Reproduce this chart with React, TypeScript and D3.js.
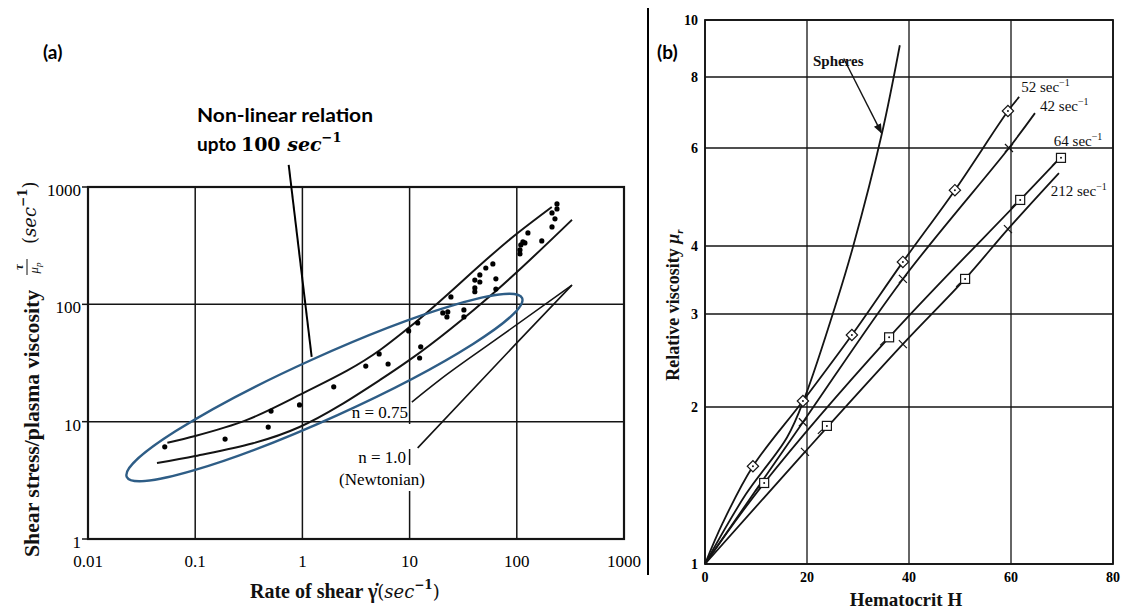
import React from 'react';
import * as d3 from 'd3';

type Pt = [number, number];

// ---------- panel (a): shear stress vs rate of shear ----------
const xTicksA = [0.01, 0.1, 1, 10, 100, 1000];
const yTicksA = [1, 10, 100, 1000];

const upperCurve: Pt[] = [[0.055, 6.6], [0.1, 7.55], [0.3, 10.3], [0.94, 16.9], [5.3, 40.8], [10, 64], [102, 406], [212, 676]];
const lowerCurve: Pt[] = [[0.044, 4.45], [0.1, 5.1], [0.94, 9.0], [5.3, 22.7], [10, 33.6], [65, 132], [327, 525]];
const line075: Pt[] = [[10.5, 14.7], [19.1, 22.7], [65, 50.7], [327, 146]];
const line100: Pt[] = [[11.9, 5.97], [100, 46.9], [327, 146]];

const dotsA: Pt[] = [
  [0.052, 6.1], [0.19, 7.1], [0.51, 12.3], [0.48, 9.0], [0.94, 13.9], [1.96, 19.8], [3.9, 29.8], [5.2, 37.8],
  [6.3, 31.0], [9.8, 59.3], [11.9, 69.4], [12.7, 43.4], [12.4, 34.9], [20.4, 84.5], [22.7, 86.1], [22.3, 78.1],
  [24.3, 115.7], [32.1, 89.6], [32.1, 78.1], [40.6, 161], [45.2, 155], [40.6, 138], [40.6, 128], [45.2, 178],
  [51.4, 204], [59.8, 221], [63.8, 165], [63.8, 135], [107, 291], [107, 269], [114, 340], [119, 334],
  [127, 406], [109, 321], [171, 347], [213, 457], [213, 601], [227, 535], [237, 718], [237, 650],
];

// blue highlight ellipse: two ends (data) and half-width in px
const ellipseEnds: Pt[] = [[0.023, 3.38], [112, 113]];
const ellipseHalfWidth = 30.5;
// pointer from "Non-linear relation" text
const pointerA: Pt[] = [[0.745, 1542], [1.22, 35.6]];

// ---------- panel (b): relative viscosity vs hematocrit ----------
const xTicksB = [0, 20, 40, 60, 80];
const yTicksB = [1, 2, 3, 4, 6, 8, 10];

const spheres: Pt[] = [[0, 1], [8, 1.36], [16.1, 1.75], [19.6, 2.09], [25.9, 3.18], [29, 3.98], [34.7, 6.37], [38.2, 9.06]];
const c52: Pt[] = [[0, 1], [3.5, 1.2], [9.4, 1.54], [19.2, 2.053], [28.8, 2.737], [38.8, 3.74], [49, 5.04], [59.4, 6.97], [61.6, 7.38]];
const c42: Pt[] = [[0, 1], [19.2, 1.87], [38.8, 3.48], [59.6, 6.0], [64.7, 6.91]];
const c64: Pt[] = [[0, 1], [11.6, 1.43], [36.1, 2.71], [61.8, 4.84], [70.2, 5.83]];
const c212: Pt[] = [[0, 1], [19.6, 1.64], [38.8, 2.63], [51, 3.48], [59.4, 4.29], [69.4, 5.41]];

const diamonds52: Pt[] = [[9.4, 1.54], [19.2, 2.053], [28.8, 2.737], [38.8, 3.74], [49, 5.04], [59.4, 6.97]];
const crosses42: Pt[] = [[19.2, 1.87], [38.8, 3.48], [59.6, 6.0]];
const squares64: Pt[] = [[11.6, 1.43], [36.1, 2.71], [61.8, 4.84], [69.8, 5.76]];
const ticks212: Pt[] = [[19.6, 1.64], [38.8, 2.63], [59.4, 4.29]];
const squares212: Pt[] = [[23.9, 1.84], [51, 3.48]];

const curveLabels = [
  { text: '52 sec', at: [62.0, 7.53] as Pt },
  { text: '42 sec', at: [65.7, 6.97] as Pt },
  { text: '64 sec', at: [68.4, 6.05] as Pt },
  { text: '212 sec', at: [67.8, 4.92] as Pt },
];
const spheresArrow: Pt[] = [[27.2, 8.6], [34.6, 6.38]];

const SERIF = '"Liberation Serif", "DejaVu Serif", serif';
const MATH = '"DejaVu Serif", serif';
const SANS = 'Lato, "Open Sans", sans-serif';
const INK = '#141414';

export default function App() {
  const xA = d3.scaleLog().domain([0.01, 1000]).range([88, 624]);
  const yA = d3.scaleLog().domain([1, 1000]).range([539, 187]);
  const xB = d3.scaleLinear().domain([0, 80]).range([705, 1113]);
  const yB = d3.scaleLog().domain(yTicksB).range([564, 407, 314, 246, 148, 77, 20]);

  const lineA = d3.line<Pt>().x(d => xA(d[0])).y(d => yA(d[1])).curve(d3.curveMonotoneX);
  const lineB = d3.line<Pt>().x(d => xB(d[0])).y(d => yB(d[1])).curve(d3.curveCatmullRom.alpha(0.5));

  // ellipse geometry from its ends
  const [e0, e1] = ellipseEnds.map(d => [xA(d[0]), yA(d[1])]);
  const ecx = (e0[0] + e1[0]) / 2;
  const ecy = (e0[1] + e1[1]) / 2;
  const erx = Math.hypot(e1[0] - e0[0], e1[1] - e0[1]) / 2;
  const eang = (Math.atan2(e1[1] - e0[1], e1[0] - e0[0]) * 180) / Math.PI;

  return (
    <svg width={1122} height={611} style={{ position: 'absolute', left: 0, top: 0, background: '#fff' }}>
      <defs>
        <marker id="arrow" viewBox="0 0 10 10" refX="9" refY="5" markerWidth="7" markerHeight="7" orient="auto">
          <path d="M0,1 L10,5 L0,9 z" fill={INK} />
        </marker>
      </defs>

      {/* ================= panel (a) ================= */}
      <text x={43} y={59} fontFamily={SANS} fontWeight={700} fontSize={19} fill="#000">(a)</text>
      <text x={197} y={122} fontFamily={SANS} fontWeight={700} fontSize={19} fill="#000" textLength={176} lengthAdjust="spacingAndGlyphs">Non-linear relation</text>
      <text x={197} y={151} fontWeight={700} fontSize={19} fill="#000">
        <tspan fontFamily={SANS}>upto </tspan>
        <tspan fontFamily={MATH} fontSize={19}>100 </tspan>
        <tspan fontFamily={MATH} fontStyle="italic" fontSize={19}>sec</tspan>
        <tspan fontFamily={MATH} fontSize={13} dy={-9}>−1</tspan>
      </text>

      {/* grid */}
      {xTicksA.map(t => (
        <line key={'gxa' + t} x1={xA(t)} x2={xA(t)} y1={yA(1)} y2={yA(1000)} stroke={INK} strokeWidth={1.5} />
      ))}
      {yTicksA.map(t => (
        <g key={'gya' + t}>
          <line x1={xA(0.01)} x2={xA(1000)} y1={yA(t)} y2={yA(t)} stroke={INK} strokeWidth={1.5} />
          <line x1={xA(0.01) - 6} x2={xA(0.01)} y1={yA(t)} y2={yA(t)} stroke={INK} strokeWidth={1.5} />
          <text x={xA(0.01) - 7} y={yA(t) + 9} textAnchor="end" fontFamily={SERIF} fontSize={17} fill="#000">{t}</text>
        </g>
      ))}
      <rect x={xA(0.01)} y={yA(1000)} width={xA(1000) - xA(0.01)} height={yA(1) - yA(1000)} fill="none" stroke={INK} strokeWidth={2.2} />
      {xTicksA.map(t => (
        <text key={'lxa' + t} x={xA(t)} y={yA(1) + 28} textAnchor="middle" fontFamily={SERIF} fontSize={17} fill="#000">{t}</text>
      ))}

      {/* white boxes behind the n labels */}
      <rect x={406} y={424} width={8} height={25} fill="#fff" />
      <rect x={334} y={465} width={96} height={26} fill="#fff" />

      {/* model curves */}
      <path d={lineA(upperCurve) ?? ''} fill="none" stroke={INK} strokeWidth={2} />
      <path d={lineA(lowerCurve) ?? ''} fill="none" stroke={INK} strokeWidth={2} />
      <path d={lineA(line075) ?? ''} fill="none" stroke={INK} strokeWidth={1.6} />
      <path d={lineA(line100) ?? ''} fill="none" stroke={INK} strokeWidth={1.6} />
      {dotsA.map((d, i) => (
        <circle key={'dot' + i} cx={xA(d[0])} cy={yA(d[1])} r={2.6} fill="#000" />
      ))}

      <text x={408} y={418} textAnchor="end" fontFamily={SERIF} fontSize={17} fill="#000">n = 0.75</text>
      <text x={406} y={463} textAnchor="end" fontFamily={SERIF} fontSize={17} fill="#000">n = 1.0</text>
      <text x={382} y={485} textAnchor="middle" fontFamily={SERIF} fontSize={17} fill="#000">(Newtonian)</text>

      {/* annotation */}
      <line x1={xA(pointerA[0][0])} y1={yA(pointerA[0][1])} x2={xA(pointerA[1][0])} y2={yA(pointerA[1][1])} stroke="#000" strokeWidth={2} />
      <ellipse cx={ecx} cy={ecy} rx={erx} ry={ellipseHalfWidth} transform={`rotate(${eang} ${ecx} ${ecy})`} fill="none" stroke="#2e5d86" strokeWidth={2.4} />

      {/* axis titles */}
      <text x={250} y={598} fontFamily={SERIF} fontWeight={700} fontSize={20} fill="#111">
        Rate of shear γ̇
        <tspan fontFamily={MATH} fontWeight={400} fontSize={18}>(</tspan>
        <tspan fontFamily={MATH} fontStyle="italic" fontWeight={400} fontSize={18}>sec</tspan>
        <tspan fontFamily={MATH} fontSize={12} dy={-9} fontWeight={700}>−1</tspan>
        <tspan fontFamily={MATH} dy={9} fontWeight={400} fontSize={18}>)</tspan>
      </text>
      <g transform="translate(39,557) rotate(-90)">
        <text x={0} y={0} fontFamily={SERIF} fontWeight={700} fontSize={20} fill="#111" textLength={267} lengthAdjust="spacingAndGlyphs">Shear stress/plasma viscosity</text>
        <text x={290} y={-16} textAnchor="middle" fontFamily={SERIF} fontStyle="italic" fontWeight={700} fontSize={13} fill="#111">τ</text>
        <line x1={282} x2={298} y1={-12} y2={-12} stroke="#111" strokeWidth={1} />
        <text x={289} y={-1} textAnchor="middle" fontFamily={SERIF} fontStyle="italic" fontSize={13} fill="#111">μ<tspan fontSize={9} dy={3}>p</tspan></text>
        <text x={313} y={-3} fontFamily={MATH} fontSize={18} fill="#111">(<tspan fontStyle="italic">sec</tspan><tspan fontSize={12} dy={-9} fontWeight={700}>−1</tspan><tspan dy={9}>)</tspan></text>
      </g>

      {/* separator */}
      <line x1={648} x2={648} y1={8} y2={575} stroke="#000" strokeWidth={2} />

      {/* ================= panel (b) ================= */}
      <text x={657} y={59} fontFamily={SANS} fontWeight={700} fontSize={19} fill="#000">(b)</text>

      {xTicksB.map(t => (
        <g key={'gxb' + t}>
          <line x1={xB(t)} x2={xB(t)} y1={yB(1)} y2={yB(10)} stroke={INK} strokeWidth={1.3} />
          <text x={xB(t)} y={yB(1) + 18} textAnchor="middle" fontFamily={SERIF} fontWeight={700} fontSize={14} fill="#000">{t}</text>
        </g>
      ))}
      {yTicksB.map(t => (
        <g key={'gyb' + t}>
          <line x1={xB(0)} x2={xB(80)} y1={yB(t)} y2={yB(t)} stroke={INK} strokeWidth={1.3} />
          <text x={xB(0) - 7} y={yB(t) + 5} textAnchor="end" fontFamily={SERIF} fontWeight={700} fontSize={14} fill="#000">{t}</text>
        </g>
      ))}
      <rect x={xB(0)} y={yB(10)} width={xB(80) - xB(0)} height={yB(1) - yB(10)} fill="none" stroke={INK} strokeWidth={1.8} />

      {[spheres, c52, c42, c64, c212].map((c, i) => (
        <path key={'cb' + i} d={lineB(c) ?? ''} fill="none" stroke={INK} strokeWidth={1.8} />
      ))}

      {diamonds52.map((d, i) => (
        <g key={'dm' + i} transform={`translate(${xB(d[0])},${yB(d[1])})`}>
          <rect x={-4} y={-4} width={8} height={8} transform="rotate(45)" fill="#fff" stroke={INK} strokeWidth={1.2} />
          <circle r={1} fill={INK} />
        </g>
      ))}
      {crosses42.map((d, i) => (
        <g key={'cr' + i} transform={`translate(${xB(d[0])},${yB(d[1])})`} stroke={INK} strokeWidth={1.2}>
          <line x1={-4} y1={-4} x2={4} y2={4} />
          <line x1={-4} y1={4} x2={4} y2={-4} />
        </g>
      ))}
      {[...squares64, ...squares212].map((d, i) => (
        <g key={'sq' + i} transform={`translate(${xB(d[0])},${yB(d[1])})`}>
          <rect x={-4.5} y={-4.5} width={9} height={9} fill="#fff" stroke={INK} strokeWidth={1.2} />
          <circle r={1} fill={INK} />
          <line x1={-9} y1={8} x2={-5} y2={4} stroke={INK} strokeWidth={1.2} />
        </g>
      ))}
      {ticks212.map((d, i) => (
        <g key={'tk' + i} transform={`translate(${xB(d[0])},${yB(d[1])})`} stroke={INK} strokeWidth={1.2}>
          <line x1={-4} y1={-4} x2={4} y2={4} />
        </g>
      ))}

      {curveLabels.map(l => (
        <text key={l.text} x={xB(l.at[0])} y={yB(l.at[1])} fontFamily={SERIF} fontSize={15} fill="#111">
          {l.text}
          <tspan fontSize={10} dy={-6}>−1</tspan>
        </text>
      ))}

      <text x={813} y={66} fontFamily={SERIF} fontWeight={700} fontSize={15} fill="#111">Spheres</text>
      <line x1={xB(spheresArrow[0][0])} y1={yB(spheresArrow[0][1])} x2={xB(spheresArrow[1][0])} y2={yB(spheresArrow[1][1])} stroke={INK} strokeWidth={1.4} markerEnd="url(#arrow)" />

      <text x={906} y={606} textAnchor="middle" fontFamily={SERIF} fontWeight={700} fontSize={19} fill="#111">Hematocrit H</text>
      <g transform="translate(679,305) rotate(-90)">
        <text x={0} y={0} textAnchor="middle" fontFamily={SERIF} fontWeight={700} fontSize={18} fill="#111">
          Relative viscosity <tspan fontStyle="italic">μ</tspan><tspan fontSize={11} dy={4} fontStyle="italic">r</tspan>
        </text>
      </g>
    </svg>
  );
}
